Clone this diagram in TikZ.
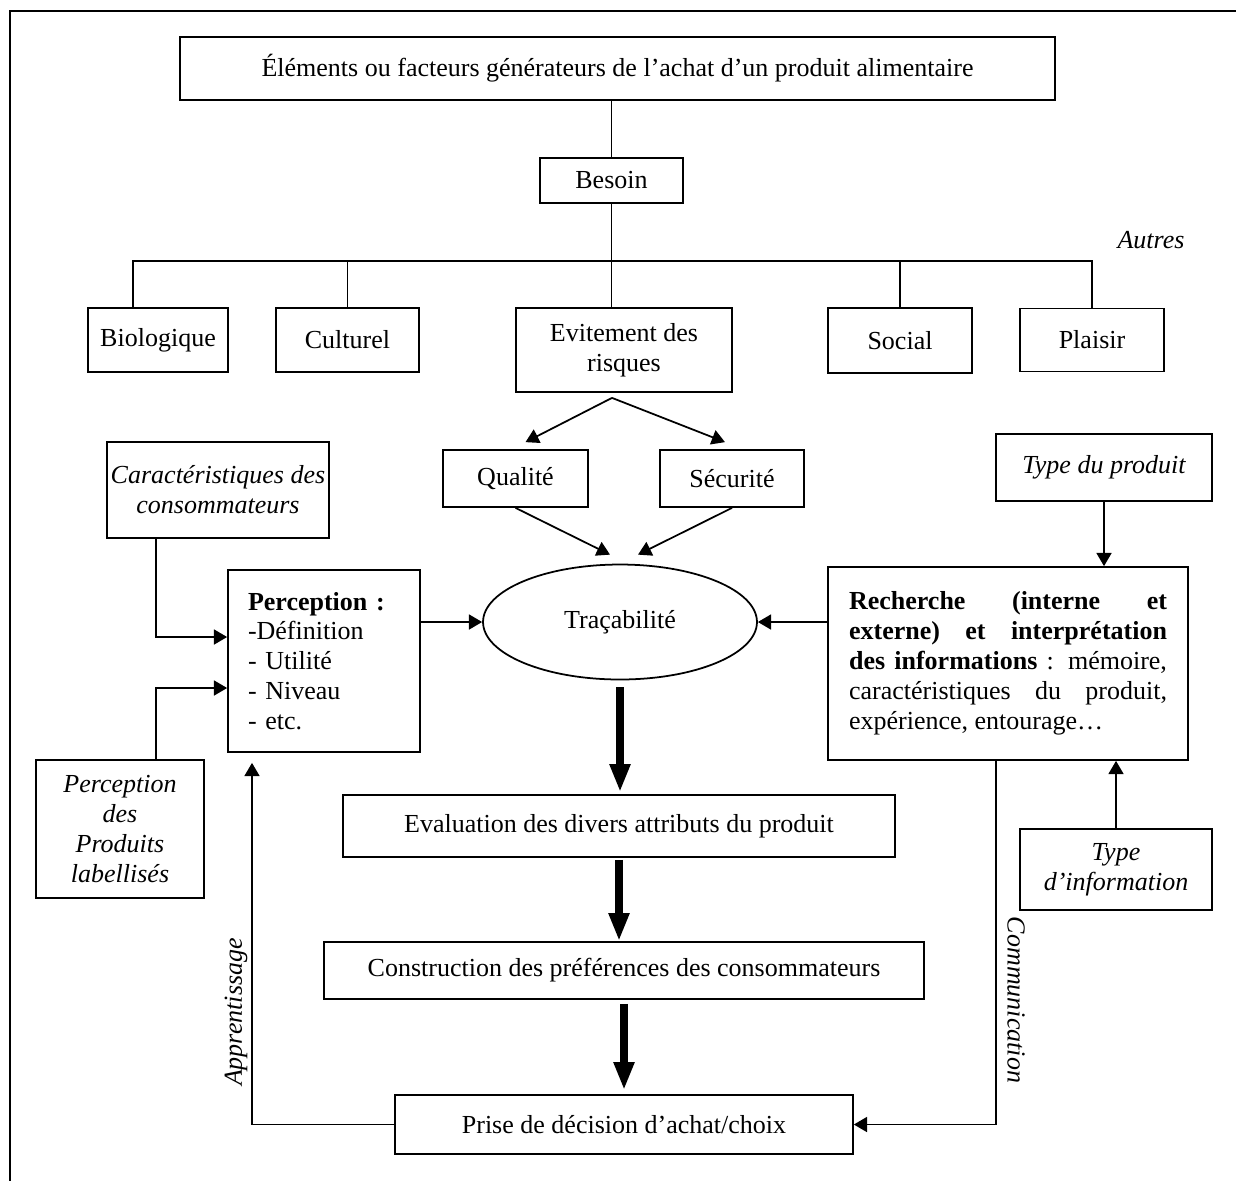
\documentclass[tikz,border=0pt]{standalone}
\usepackage{fontspec}
\setmainfont{Liberation Serif}
\usetikzlibrary{arrows.meta,positioning,shapes.geometric}

\newcommand{\diagfont}{\fontsize{14.8}{17}\selectfont}

\tikzset{
  box/.style={draw, rectangle, inner sep=2pt, align=center},
  ital/.style={font=\diagfont\itshape},
  arr/.style={-{Triangle[width=8.5pt,length=7.5pt]}},
  bigarr/.style={line width=5pt, -{Triangle[width=11pt,length=16pt]}},
}

\begin{document}
\begin{tikzpicture}[x=0.02cm, y=-0.02cm, line width=1pt, font=\diagfont]

  \useasboundingbox (0,0) rectangle (1236,1181);

  % The outer frame (top and left sides only)
  \draw[line width=1.6pt] (1236,11) -- (10,11) -- (10,1181);

  % Top of the tree
  \node[box, minimum width=17.5cm, minimum height=1.26cm] (titre) at (617.5,68.5)
    {Éléments ou facteurs générateurs de l’achat d’un produit alimentaire};
  \node[box, minimum width=2.86cm, minimum height=0.9cm] (besoin) at (611.5,180.5) {Besoin};
  \node[ital] (autres) at (1151,240) {Autres};

  % The five needs
  \node[box, minimum width=2.8cm, minimum height=1.28cm] (bio) at (158,340) {Biologique};
  \node[box, minimum width=2.86cm, minimum height=1.28cm] (cult) at (347.5,340) {Culturel};
  \node[box, minimum width=4.32cm, minimum height=1.68cm] (evit) at (624,350) {Evitement des\\risques};
  \node[box, minimum width=2.88cm, minimum height=1.3cm] (soc) at (900,340.5) {Social};
  \node[box, minimum width=2.88cm, minimum height=1.26cm] (plai) at (1092,340) {Plaisir};

  \coordinate (bar) at (611.5,261);
  \draw (titre.south -| besoin.north) -- (besoin.north);
  \draw (besoin.south) -- (besoin.south |- evit.north);
  \draw ([xshift=-0.5cm]bio.north) |- (bar) -| (plai.north);
  \draw (cult.north) -- (cult.north |- bar);
  \draw (soc.north) -- (soc.north |- bar);

  % Risks
  \node[box, minimum width=2.9cm, minimum height=1.14cm] (qual) at (515.5,478.5) {Qualité};
  \node[box, minimum width=2.88cm, minimum height=1.14cm] (secu) at (732,478.5) {Sécurité};
  \coordinate (fourche) at ([shift={(-12,5)}]evit.south);
  \draw[arr] (fourche) -- ([shift={(10,-7)}]qual.north);
  \draw[arr] (fourche) -- ([shift={(-7,-7)}]secu.north);

  % Traceability in the middle
  \node[draw, ellipse, minimum width=5.48cm, minimum height=2.3cm] (trac) at (620,622) {Traçabilité};
  \draw[arr] (qual.south) -- ([shift={(-10,-9)}]trac.north);
  \draw[arr] (secu.south) -- ([shift={(18,-9)}]trac.north);

  % Left side
  \node[box, ital, minimum width=4.2cm, minimum height=1.92cm] (carac) at (218,490)
    {Caractéristiques des\\consommateurs};
  \node[box, text width=3.04cm, inner xsep=0.4cm, minimum height=3.64cm, align=left] (perc) at (324,661)
    {\textbf{Perception :}\\-Définition\\- Utilité\\- Niveau\\- etc.};
  \node[box, ital, minimum width=3.36cm, minimum height=2.76cm] (prodlab) at (120,829)
    {Perception\\des\\Produits\\labellisés};
  \draw[arr] ([xshift=-1.24cm]carac.south) |- ([yshift=0.48cm]perc.west);
  \draw[arr] ([xshift=0.72cm]prodlab.north) |- ([yshift=-0.54cm]perc.west);
  \draw[arr] (perc.east |- trac.west) -- (trac.west);

  % Right side
  \node[box, ital, minimum width=4.32cm, minimum height=1.34cm] (tprod) at (1104,467.5) {Type du produit};
  \node[box, text width=6.36cm, inner xsep=0.42cm, minimum height=3.86cm, align=justify] (rech) at (1008,663.5)
    {\textbf{Recherche (interne et\linebreak externe) et interprétation\linebreak des informations} : mémoire,\linebreak
     caractéristiques du produit,\linebreak expérience, entourage…};
  \node[box, ital, minimum width=3.84cm, minimum height=1.62cm] (tinfo) at (1116,869.5)
    {Type\\d’information};
  \draw[arr] (tprod.south) -- (tprod.south |- rech.north);
  \draw[arr] (tinfo.north) -- (tinfo.north |- rech.south);
  \draw[arr] (rech.west |- trac.east) -- (trac.east);

  % The decision chain
  \node[box, minimum width=11.04cm, minimum height=1.24cm] (eval) at (619,826)
    {Evaluation des divers attributs du produit};
  \node[box, minimum width=12cm, minimum height=1.14cm] (cons) at (624,970.5)
    {Construction des préférences des consommateurs};
  \node[box, minimum width=9.16cm, minimum height=1.18cm] (prise) at (624,1124.5)
    {Prise de décision d’achat/choix};
  \draw[bigarr, shorten <=0.14cm, shorten >=0.04cm] (trac.south) -- (trac.south |- eval.north);
  \draw[bigarr, shorten <=0.04cm] (eval.south) -- (eval.south |- cons.north);
  \draw[bigarr, shorten <=0.08cm, shorten >=0.08cm] (cons.south) -- (cons.south |- prise.north);

  % Feedback loops
  \draw[arr] (prise.west) -| ([shift={(-72,10)}]perc.south);
  \node[ital, rotate=90] (apprent) at (236,1012) {Apprentissage};
  \draw[arr] ([xshift=-0.24cm]rech.south) |- (prise.east);
  \node[ital, rotate=-90] (comm) at (1016,1000) {Communication};

\end{tikzpicture}
\end{document}
